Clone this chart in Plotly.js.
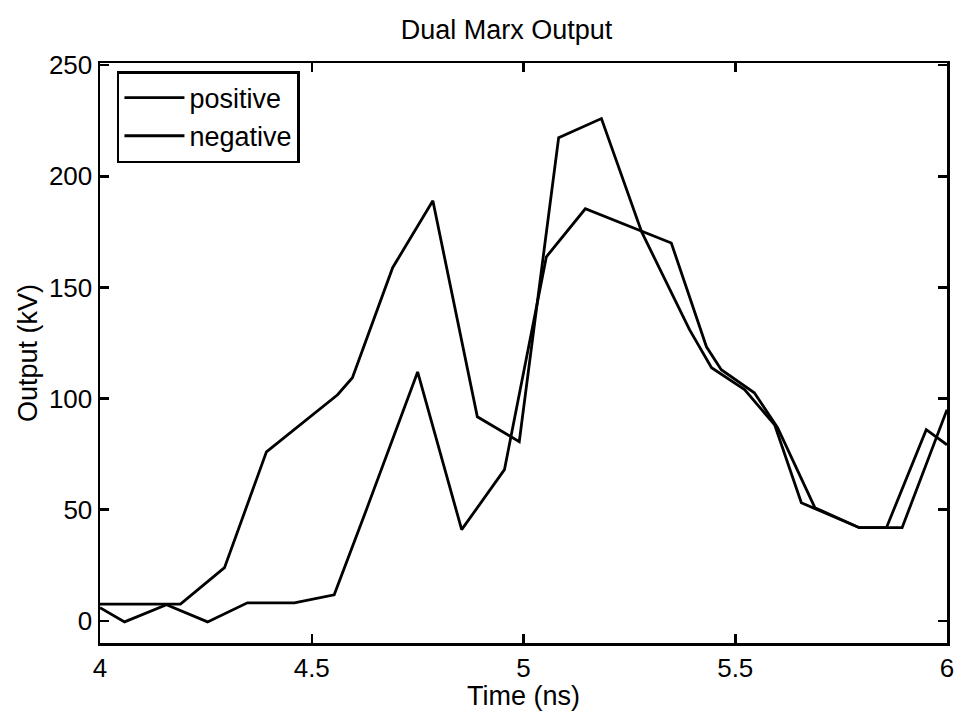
<!DOCTYPE html>
<html>
<head>
<meta charset="utf-8">
<script src="https://cdn.plot.ly/plotly-3.0.1.min.js"></script>
<style>html,body{margin:0;padding:0;background:#fff;}#chart{width:954px;height:711px;}</style>
</head>
<body>
<div id="chart"></div>
<script>
// Series
const posTime = [4.0, 4.19, 4.294, 4.393, 4.561, 4.596, 4.691, 4.786, 4.891, 4.99, 5.083, 5.184, 5.279, 5.392, 5.444, 5.522, 5.593, 5.656, 5.793, 5.857, 5.951, 6.0];
const posKV   = [7.5, 7.5, 23.9, 76, 101.7, 109.4, 158.9, 189, 91.8, 80.6, 217.4, 226, 175, 131, 113.9, 104, 88.2, 53.1, 41.9, 41.9, 86, 79.2];
const negTime = [4.0, 4.058, 4.157, 4.254, 4.348, 4.459, 4.553, 4.629, 4.75, 4.854, 4.955, 5.054, 5.146, 5.349, 5.432, 5.467, 5.545, 5.6, 5.688, 5.793, 5.894, 6.0];
const negKV   = [5.9, -0.5, 7.2, -0.5, 8.1, 8.1, 11.7, 50, 112, 41, 68, 163.8, 185.4, 170, 123.3, 113, 102.6, 86.9, 50.9, 41.9, 41.9, 95];
const seriesNames = ['positive', 'negative'];
const xTicks = [4, 4.5, 5, 5.5, 6];
const xTickText = ['4', '4.5', '5', '5.5', '6'];
const yTicks = [0, 50, 100, 150, 200, 250];
const yTickText = ['0', '50', '100', '150', '200', '250'];

const FONT = 'Liberation Sans, Arial, Helvetica, sans-serif';
const lineStyle = {color: '#000', width: 2.8};

const traces = [
  {x: posTime, y: posKV, name: seriesNames[0], mode: 'lines', line: lineStyle},
  {x: negTime, y: negKV, name: seriesNames[1], mode: 'lines', line: lineStyle}
];

const axisCommon = {
  showgrid: false, zeroline: false,
  showline: true, linecolor: '#000', linewidth: 2.5,
  mirror: 'ticks', ticks: 'inside', ticklen: 9, tickwidth: 2.5, tickcolor: '#000',
  tickfont: {family: FONT, size: 26, color: '#000'},
  ticklabeloverflow: 'allow'
};

const layout = {
  width: 954, height: 711,
  paper_bgcolor: '#fff', plot_bgcolor: '#fff',
  margin: {l: 100, r: 7, t: 63, b: 68},
  font: {family: FONT, color: '#000'},
  title: {text: 'Dual Marx Output', font: {family: FONT, size: 27, color: '#000'},
          x: 0.531, xref: 'container', xanchor: 'center', y: 0.958, yref: 'container', yanchor: 'middle'},
  xaxis: Object.assign({}, axisCommon, {
    range: [4, 6], tickvals: xTicks, ticktext: xTickText,
    title: {text: 'Time (ns)', font: {family: FONT, size: 27, color: '#000'}, standoff: 0}
  }),
  yaxis: Object.assign({}, axisCommon, {
    range: [-10, 251], tickvals: yTicks, ticktext: yTickText,
    title: {text: 'Output (kV)', font: {family: FONT, size: 27, color: '#000'}, standoff: 4}
  }),
  showlegend: true,
  legend: {
    x: 0.02, y: 0.986, xanchor: 'left', yanchor: 'top',
    bgcolor: '#fff', bordercolor: '#000', borderwidth: 2.5,
    font: {family: FONT, size: 27, color: '#000'},
    itemwidth: 60, tracegroupgap: 0
  }
};

Plotly.newPlot('chart', traces, layout, {displayModeBar: false, staticPlot: true});
</script>
</body>
</html>
